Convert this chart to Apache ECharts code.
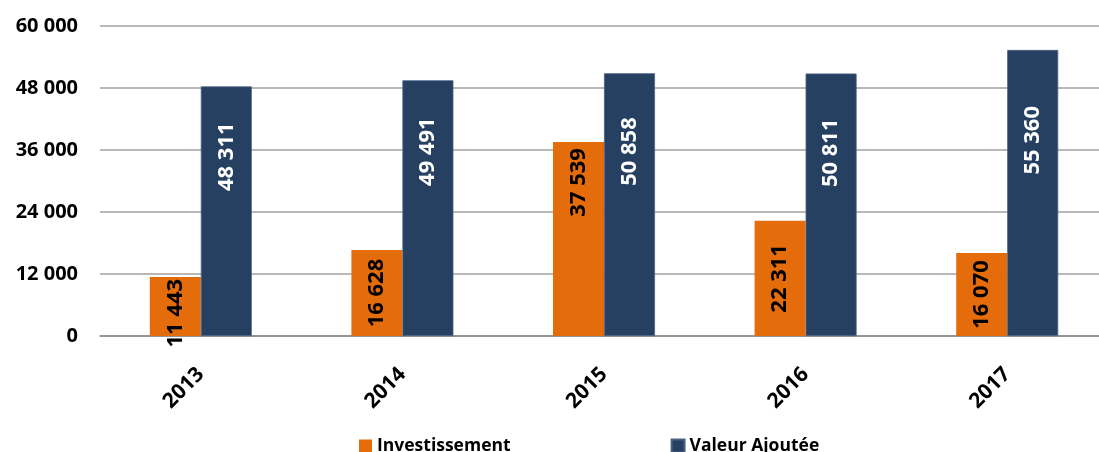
<!DOCTYPE html>
<html>
<head>
    <meta charset="utf-8">
    <title>ECharts</title>
    <script src="https://cdn.jsdelivr.net/npm/echarts@6/dist/echarts.min.js"></script>
</head>
<body style="margin:0">
<div id="main" style="height: 452px; width: 1099px;"></div>
<script type="text/javascript">
    var years = ['2013', '2014', '2015', '2016', '2017'];
    var investissement = [11443, 16628, 37539, 22311, 16070];
    var valeurAjoutee = [48311, 49491, 50858, 50811, 55360];

    // label placement as in the original (Excel moved some of them by hand)
    var orangeAtTop = [true, false, true, false, false];
    var navyLabelGap = [36, 37, 44, 45, 56];

    function fmt(v) {
        return String(v).replace(/\B(?=(\d{3})+(?!\d))/g, ' ');
    }

    var myChart = echarts.init(document.getElementById('main'));
    var font = '"Open Sans", "Liberation Sans", sans-serif';

    var orangeData = investissement.map(function (v, i) {
        if (!orangeAtTop[i]) return v;
        return {
            value: v,
            label: { position: 'insideTop', align: 'right', distance: i === 0 ? 2 : 6 }
        };
    });
    var navyData = valeurAjoutee.map(function (v, i) {
        return { value: v, label: { distance: navyLabelGap[i] } };
    });

    var option = {
        animation: false,
        textStyle: { fontFamily: font },
        grid: { left: 100, top: 26, width: 1008, height: 310, outerBoundsMode: 'none' },
        legend: {
            top: 432,
            left: 354,
            itemGap: 160,
            itemWidth: 13,
            itemHeight: 13,
            icon: 'rect',
            textStyle: { fontFamily: font, fontWeight: 'bold', fontSize: 17.5, color: '#000' },
            data: ['Investissement', 'Valeur Ajoutée']
        },
        xAxis: {
            type: 'category',
            data: years,
            axisLine: { lineStyle: { color: '#888', width: 1.5 } },
            axisTick: { length: 8, lineStyle: { color: '#888' } },
            axisLabel: {
                rotate: 45, fontWeight: 'bold', fontSize: 21, color: '#000',
                margin: 35, fontFamily: font
            }
        },
        yAxis: {
            type: 'value',
            min: 0, max: 60000, interval: 12000,
            axisLine: { show: false },
            axisTick: { show: false },
            axisLabel: {
                formatter: fmt, fontWeight: 'bold', fontSize: 20, color: '#000',
                margin: 22, fontFamily: font
            },
            splitLine: { lineStyle: { color: '#a0a0a0', width: 1.5 } }
        },
        series: [
            {
                name: 'Investissement',
                type: 'bar',
                data: orangeData,
                barWidth: 51,
                barGap: '0%',
                itemStyle: { color: '#E46C0A' },
                label: {
                    show: true, position: 'inside', rotate: 90,
                    align: 'center', verticalAlign: 'middle',
                    formatter: function (p) { return fmt(p.value); },
                    fontWeight: 'bold', fontSize: 22, color: '#000', fontFamily: font
                }
            },
            {
                name: 'Valeur Ajoutée',
                type: 'bar',
                data: navyData,
                barWidth: 51,
                itemStyle: { color: '#254061', borderColor: '#4a6284', borderWidth: 0.8 },
                label: {
                    show: true, position: 'insideTop', rotate: 90,
                    align: 'right', verticalAlign: 'middle',
                    formatter: function (p) { return fmt(p.value); },
                    fontWeight: 'bold', fontSize: 22, color: '#fff', fontFamily: font
                }
            }
        ]
    };

    myChart.setOption(option);
</script>
</body>
</html>
